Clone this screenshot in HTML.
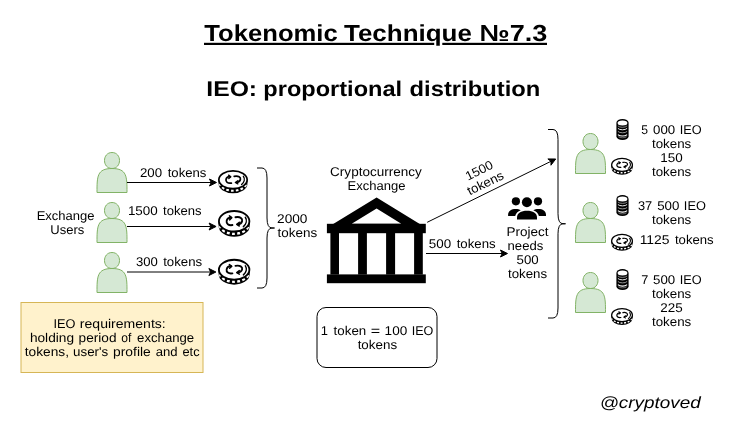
<!DOCTYPE html>
<html><head><meta charset="utf-8"><title>Tokenomic Technique 7.3</title>
<style>
html,body{margin:0;padding:0;background:#fff;}
body{width:737px;height:433px;overflow:hidden;}
svg{display:block;font-family:"Liberation Sans",sans-serif;text-rendering:geometricPrecision;}
.t{font-size:12.7px;fill:#000;}
.t1{font-size:23.2px;font-weight:bold;fill:#000;}
.t2{font-size:21.3px;font-weight:bold;fill:#000;}
.ti{font-size:16.3px;font-style:italic;fill:#000;}
.p{fill:#d5e8d4;stroke:#82b366;stroke-width:1;}
.br{fill:none;stroke:#000;stroke-width:1;}
</style></head><body>
<svg width="737" height="433" viewBox="0 0 737 433">
<defs>
<g id="coin">
  <path d="M0.6,9.6 L0.6,14.0 A14.4,9.5 0 0 0 29.4,14.0 L29.4,9.6 Z" fill="#000"/>
  <path d="M1.6,13.9 A13.7,8.8 0 0 0 28.4,13.9" fill="none" stroke="#fff" stroke-width="2.2" stroke-dasharray="2.6 2.2" stroke-dashoffset="0.4"/>
  <ellipse cx="15" cy="9.9" rx="14.15" ry="9" fill="#fff" stroke="#000" stroke-width="1.7"/>
  <path d="M13.4,13.2 C9.5,13.8 7.6,11.8 8.0,9.6 C8.4,7.6 10.2,6.6 12.2,6.8" fill="none" stroke="#000" stroke-width="1.7" stroke-linecap="round"/>
  <path d="M10.6,5.2 L12.8,6.8 L10.8,8.6" fill="none" stroke="#000" stroke-width="1.4" stroke-linecap="round" stroke-linejoin="round"/>
  <path d="M16.2,6.4 C20.5,5.6 22.9,7.4 22.4,9.6 C22,11.4 20.2,12.4 18.2,12.6" fill="none" stroke="#000" stroke-width="1.7" stroke-linecap="round"/>
  <path d="M19.8,10.8 L17.4,12.6 L19.8,14.0" fill="none" stroke="#000" stroke-width="1.4" stroke-linecap="round" stroke-linejoin="round"/>
  <path d="M25.4,6.4 C27.2,9 26.2,12.4 23.6,14.6" fill="none" stroke="#000" stroke-width="1.4" stroke-linecap="round"/>
</g>
<g id="stack">
  <path d="M0.4,4 L0.4,17.4 A6.1,3.8 0 0 0 12.6,17.4 L12.6,4 A6.1,3.9 0 0 0 0.4,4 Z" fill="#000"/>
  <ellipse cx="6.5" cy="4.2" rx="4.9" ry="2.5" fill="#fff"/>
  <path d="M1.9,7.1 A5.2,2.6 0 0 0 11.1,7.1" fill="none" stroke="#aaa" stroke-width="0.8"/>
  <path d="M1.9,9.6 A5.2,2.6 0 0 0 11.1,9.6" fill="none" stroke="#eee" stroke-width="1"/>
  <path d="M1.9,12.6 A5.2,2.6 0 0 0 11.1,12.6" fill="none" stroke="#bbb" stroke-width="0.8"/>
  <path d="M1.9,15.8 A5.2,2.6 0 0 0 11.1,15.8" fill="none" stroke="#fff" stroke-width="1.1"/>
  <path d="M2.3,17.9 A5.2,2.6 0 0 0 10.7,17.9" fill="none" stroke="#999" stroke-width="0.7"/>
</g>
</defs>
<rect width="737" height="433" fill="#fff"/>

<rect x="204" y="42.8" width="230.2" height="2.2" fill="#000"/><rect x="442.3" y="42.8" width="104.7" height="2.2" fill="#000"/>
<path class="p" transform="translate(97,152.5)" d="M0,40 C0,24 0,16 15,16 C5,16 5,0 15,0 C25,0 25,16 15,16 C30,16 30,24 30,40 Z"/>
<path class="p" transform="translate(97,202.5)" d="M0,40 C0,24 0,16 15,16 C5,16 5,0 15,0 C25,0 25,16 15,16 C30,16 30,24 30,40 Z"/>
<path class="p" transform="translate(97,252.5)" d="M0,40 C0,24 0,16 15,16 C5,16 5,0 15,0 C25,0 25,16 15,16 C30,16 30,24 30,40 Z"/>
<path class="p" transform="translate(575.5,133.5)" d="M0,40 C0,24 0,16 15,16 C5,16 5,0 15,0 C25,0 25,16 15,16 C30,16 30,24 30,40 Z"/>
<path class="p" transform="translate(575.5,202.5)" d="M0,40 C0,24 0,16 15,16 C5,16 5,0 15,0 C25,0 25,16 15,16 C30,16 30,24 30,40 Z"/>
<path class="p" transform="translate(575.5,272.5)" d="M0,40 C0,24 0,16 15,16 C5,16 5,0 15,0 C25,0 25,16 15,16 C30,16 30,24 30,40 Z"/>
<path d="M127,182.5 L211.23,182.50" fill="none" stroke="#000" stroke-width="1"/><polygon points="216.48,182.50 209.48,186.00 211.23,182.50 209.48,179.00" fill="#000" stroke="#000" stroke-width="1" stroke-miterlimit="10"/>
<path d="M127,226.5 L210.83,226.50" fill="none" stroke="#000" stroke-width="1"/><polygon points="216.08,226.50 209.08,230.00 210.83,226.50 209.08,223.00" fill="#000" stroke="#000" stroke-width="1" stroke-miterlimit="10"/>
<path d="M127,272 L210.63,272.00" fill="none" stroke="#000" stroke-width="1"/><polygon points="215.88,272.00 208.88,275.50 210.63,272.00 208.88,268.50" fill="#000" stroke="#000" stroke-width="1" stroke-miterlimit="10"/>
<use href="#coin" transform="translate(218,170) scale(1.0,0.99)"/>
<use href="#coin" transform="translate(218,210) scale(1.077,1.14)"/>
<use href="#coin" transform="translate(218,258.8) scale(1.077,1.1)"/>
<path class="br" d="M257,168 L262.0,168 Q267,168 267,178 L267,218.0 Q267,228.0 272.0,228.0 Q277,228.0 272.0,228.0 Q267,228.0 267,238.0 L267,278 Q267,288 262.0,288 L257,288"/>
<path class="br" d="M548,129.5 L553.0,129.5 Q558,129.5 558,139.5 L558,213.75 Q558,223.75 563.0,223.75 Q568,223.75 563.0,223.75 Q558,223.75 558,233.75 L558,308 Q558,318 553.0,318 L548,318"/>
<g fill="#000">
<path d="M376.6,197.6 L419.8,224 L333.2,224 Z M376.6,208.5 L351.7,223.7 L401.3,223.7 Z" fill-rule="evenodd"/>
<rect x="326.9" y="223.8" width="98.9" height="9.4"/>
<rect x="330.4" y="233" width="8.6" height="41.6"/>
<rect x="358.1" y="233" width="8.8" height="41.6"/>
<rect x="386.1" y="233" width="9" height="41.6"/>
<rect x="414.1" y="233" width="8.7" height="41.6"/>
<rect x="326.9" y="274.4" width="98.9" height="8.8"/>
</g>
<path d="M427.2,222.3 L550.99,161.31" fill="none" stroke="#000" stroke-width="1"/><polygon points="555.70,158.99 550.96,165.23 550.99,161.31 547.87,158.95" fill="#000" stroke="#000" stroke-width="1" stroke-miterlimit="10"/>
<path d="M426,253.5 L502.23,253.50" fill="none" stroke="#000" stroke-width="1"/><polygon points="507.48,253.50 500.48,257.00 502.23,253.50 500.48,250.00" fill="#000" stroke="#000" stroke-width="1" stroke-miterlimit="10"/>
<g fill="#000">
<circle cx="526.9" cy="202.3" r="5"/>
<circle cx="515.9" cy="201.3" r="4.1"/>
<circle cx="538" cy="201.3" r="4.1"/>
<path d="M517,219.5 L517,217.6 C517,213 521,210.8 527,210.8 C533,210.8 537,213 537,217.6 L537,219.5 Z"/>
<path d="M508.1,216 L508.1,214.8 C508.1,211 511.5,209 515.6,209 C517.8,209 519.4,209.4 520.8,210.2 C517.8,211.4 515.8,213.4 515.2,216 Z"/>
<path d="M546,216 L546,214.8 C546,211 542.6,209 538.5,209 C536.3,209 534.7,209.4 533.3,210.2 C536.3,211.4 538.3,213.4 538.9,216 Z"/>
</g>
<use href="#stack" x="616" y="118.8"/>
<use href="#stack" x="616" y="194.9"/>
<use href="#stack" x="616" y="268.9"/>
<use href="#coin" transform="translate(611,157.8) scale(0.735,0.72)"/>
<use href="#coin" transform="translate(611,233.8) scale(0.735,0.72)"/>
<use href="#coin" transform="translate(611,308) scale(0.735,0.72)"/>
<rect x="21" y="302.5" width="182" height="70" fill="#fff2cc" stroke="#d6b656" stroke-width="1"/>
<rect x="317" y="307.5" width="120" height="60" rx="9" ry="9" fill="#fff" stroke="#000" stroke-width="1"/>
<g style="will-change:transform">
<g transform="translate(482.2,176.6) rotate(-26.2)"><text class="t" x="0" y="-2.6" text-anchor="middle" textLength="29.2" lengthAdjust="spacingAndGlyphs">1500</text><text class="t" x="0" y="11.4" text-anchor="middle" textLength="39" lengthAdjust="spacingAndGlyphs">tokens</text></g>
<text class="t1" x="204.3" y="41.0" textLength="133.46" lengthAdjust="spacingAndGlyphs">Tokenomic</text>
<text class="t1" x="343.95" y="41.0" textLength="128.01" lengthAdjust="spacingAndGlyphs">Technique</text>
<text class="t1" x="479.6" y="41.0" textLength="67.81" lengthAdjust="spacingAndGlyphs">№7.3</text>
<text class="t2" x="206.35" y="96" textLength="50.73" lengthAdjust="spacingAndGlyphs">IEO:</text>
<text class="t2" x="263.35" y="96" textLength="138.77" lengthAdjust="spacingAndGlyphs">proportional</text>
<text class="t2" x="409.55" y="96" textLength="130.79" lengthAdjust="spacingAndGlyphs">distribution</text>
<text class="ti" x="599.65" y="408" textLength="101.16" lengthAdjust="spacingAndGlyphs">@cryptoved</text>
<text class="t" x="139.95" y="177" textLength="22.13" lengthAdjust="spacingAndGlyphs">200</text>
<text class="t" x="167.72" y="177" textLength="38.73" lengthAdjust="spacingAndGlyphs">tokens</text>
<text class="t" x="127.9" y="215" textLength="29.82" lengthAdjust="spacingAndGlyphs">1500</text>
<text class="t" x="163.14" y="215" textLength="38.46" lengthAdjust="spacingAndGlyphs">tokens</text>
<text class="t" x="135.9" y="266" textLength="21.85" lengthAdjust="spacingAndGlyphs">300</text>
<text class="t" x="163.17" y="266" textLength="38.99" lengthAdjust="spacingAndGlyphs">tokens</text>
<text class="t" x="36.65" y="220" textLength="57.89" lengthAdjust="spacingAndGlyphs">Exchange</text>
<text class="t" x="50.35" y="234" textLength="34.01" lengthAdjust="spacingAndGlyphs">Users</text>
<text class="t" x="277.1" y="223" textLength="30.38" lengthAdjust="spacingAndGlyphs">2000</text>
<text class="t" x="277.5" y="237" textLength="39.66" lengthAdjust="spacingAndGlyphs">tokens</text>
<text class="t" x="330.1" y="176" textLength="91.76" lengthAdjust="spacingAndGlyphs">Cryptocurrency</text>
<text class="t" x="347.5" y="190" textLength="58.04" lengthAdjust="spacingAndGlyphs">Exchange</text>
<text class="t" x="428.8" y="248" textLength="22.34" lengthAdjust="spacingAndGlyphs">500</text>
<text class="t" x="456.67" y="248" textLength="38.99" lengthAdjust="spacingAndGlyphs">tokens</text>
<text class="t" x="506.5" y="236" textLength="42.03" lengthAdjust="spacingAndGlyphs">Project</text>
<text class="t" x="507.55" y="250" textLength="35.74" lengthAdjust="spacingAndGlyphs">needs</text>
<text class="t" x="516.5" y="264" textLength="22.13" lengthAdjust="spacingAndGlyphs">500</text>
<text class="t" x="507.95" y="278" textLength="39.16" lengthAdjust="spacingAndGlyphs">tokens</text>
<text class="t" x="641.15" y="134" textLength="6.75" lengthAdjust="spacingAndGlyphs">5</text>
<text class="t" x="653.11" y="134" textLength="22.1" lengthAdjust="spacingAndGlyphs">000</text>
<text class="t" x="679.77" y="134" textLength="21.95" lengthAdjust="spacingAndGlyphs">IEO</text>
<text class="t" x="652.0" y="148" textLength="39.3" lengthAdjust="spacingAndGlyphs">tokens</text>
<text class="t" x="660.35" y="162" textLength="22.4" lengthAdjust="spacingAndGlyphs">150</text>
<text class="t" x="652.0" y="176" textLength="39.3" lengthAdjust="spacingAndGlyphs">tokens</text>
<text class="t" x="637.9" y="210" textLength="14.29" lengthAdjust="spacingAndGlyphs">37</text>
<text class="t" x="657.19" y="210" textLength="22.19" lengthAdjust="spacingAndGlyphs">500</text>
<text class="t" x="683.89" y="210" textLength="22.03" lengthAdjust="spacingAndGlyphs">IEO</text>
<text class="t" x="652.0" y="224" textLength="39.3" lengthAdjust="spacingAndGlyphs">tokens</text>
<text class="t" x="639.7" y="244" textLength="29.82" lengthAdjust="spacingAndGlyphs">1125</text>
<text class="t" x="674.94" y="244" textLength="38.72" lengthAdjust="spacingAndGlyphs">tokens</text>
<text class="t" x="641.15" y="284" textLength="7.06" lengthAdjust="spacingAndGlyphs">7</text>
<text class="t" x="653.11" y="284" textLength="22.1" lengthAdjust="spacingAndGlyphs">500</text>
<text class="t" x="679.77" y="284" textLength="21.95" lengthAdjust="spacingAndGlyphs">IEO</text>
<text class="t" x="652.0" y="298" textLength="39.3" lengthAdjust="spacingAndGlyphs">tokens</text>
<text class="t" x="660.3" y="312" textLength="22.4" lengthAdjust="spacingAndGlyphs">225</text>
<text class="t" x="652.0" y="326" textLength="39.3" lengthAdjust="spacingAndGlyphs">tokens</text>
<text class="t" x="53.45" y="328" textLength="21.97" lengthAdjust="spacingAndGlyphs">IEO</text>
<text class="t" x="79.89" y="328" textLength="85.86" lengthAdjust="spacingAndGlyphs">requirements:</text>
<text class="t" x="29.9" y="342" textLength="44.14" lengthAdjust="spacingAndGlyphs">holding</text>
<text class="t" x="78.63" y="342" textLength="37.88" lengthAdjust="spacingAndGlyphs">period</text>
<text class="t" x="121.34" y="342" textLength="10.09" lengthAdjust="spacingAndGlyphs">of</text>
<text class="t" x="137.08" y="342" textLength="57.09" lengthAdjust="spacingAndGlyphs">exchange</text>
<text class="t" x="24.8" y="356" textLength="44.21" lengthAdjust="spacingAndGlyphs">tokens,</text>
<text class="t" x="73.08" y="356" textLength="35.18" lengthAdjust="spacingAndGlyphs">user's</text>
<text class="t" x="113.07" y="356" textLength="37.66" lengthAdjust="spacingAndGlyphs">profile</text>
<text class="t" x="155.77" y="356" textLength="21.91" lengthAdjust="spacingAndGlyphs">and</text>
<text class="t" x="182.46" y="356" textLength="17.13" lengthAdjust="spacingAndGlyphs">etc</text>
<text class="t" x="320.85" y="335" textLength="7.21" lengthAdjust="spacingAndGlyphs">1</text>
<text class="t" x="333.63" y="335" textLength="32.63" lengthAdjust="spacingAndGlyphs">token</text>
<text class="t" x="370.83" y="335" textLength="9.42" lengthAdjust="spacingAndGlyphs">=</text>
<text class="t" x="384.61" y="335" textLength="22.62" lengthAdjust="spacingAndGlyphs">100</text>
<text class="t" x="411.73" y="335" textLength="21.68" lengthAdjust="spacingAndGlyphs">IEO</text>
<text class="t" x="357.65" y="349" textLength="39.45" lengthAdjust="spacingAndGlyphs">tokens</text>
</g>
</svg></body></html>
